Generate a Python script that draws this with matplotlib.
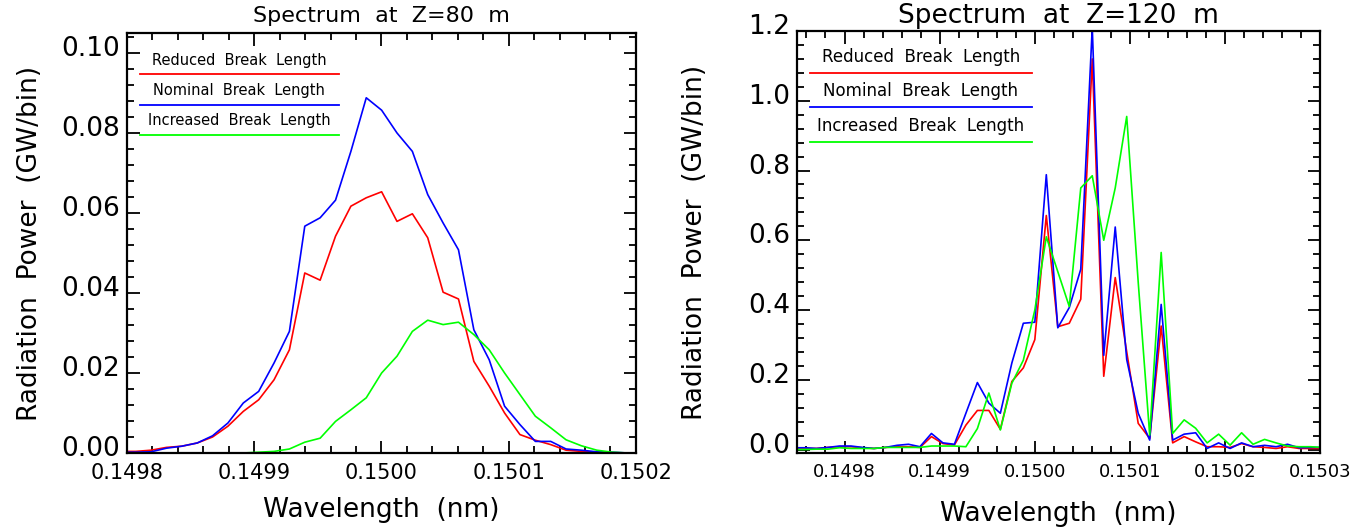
import numpy as np
import matplotlib
matplotlib.use('Agg')
import matplotlib.pyplot as plt
from matplotlib.ticker import MultipleLocator, AutoMinorLocator, FormatStrFormatter
from matplotlib.transforms import ScaledTranslation

# wavelength bins (nm), Z = 80 m panel
wl_80 = [0.14979477, 0.14980685, 0.14981893, 0.14983101, 0.14984309, 0.14985517,
         0.14986725, 0.14987933, 0.14989141, 0.14990349, 0.14991557, 0.14992765,
         0.14993973, 0.14995181, 0.14996389, 0.14997597, 0.14998805, 0.15000013,
         0.15001221, 0.15002429, 0.15003637, 0.15004845, 0.15006053, 0.15007261,
         0.15008469, 0.15009677, 0.15010885, 0.15012093, 0.15013301, 0.15014509,
         0.15015717, 0.15016925, 0.15018133, 0.15019341, 0.15020549]

reduced_80 = [0.0004, 0.0004, 0.0007, 0.0014, 0.0017, 0.0025, 0.0040, 0.0067, 0.0104,
              0.0133, 0.0183, 0.0258, 0.0450, 0.0432, 0.0542, 0.0617, 0.0638, 0.0653,
              0.0579, 0.0598, 0.0538, 0.0402, 0.0385, 0.0229, 0.0167, 0.0100, 0.0046,
              0.0032, 0.0021, 0.0007, 0.0004, 0.0002, 0.0000, 0.0000, 0.0000]
nominal_80 = [0.0002, 0.0002, 0.0003, 0.0012, 0.0017, 0.0025, 0.0043, 0.0075, 0.0125,
              0.0154, 0.0225, 0.0304, 0.0567, 0.0588, 0.0632, 0.0754, 0.0888, 0.0857,
              0.0800, 0.0754, 0.0646, 0.0575, 0.0508, 0.0308, 0.0233, 0.0117, 0.0071,
              0.0029, 0.0029, 0.0010, 0.0007, 0.0003, 0.0002, 0.0000, 0.0000]
increased_80 = [0.0000, 0.0000, 0.0000, 0.0000, 0.0000, 0.0000, 0.0000, 0.0000, 0.0000,
                0.0002, 0.0004, 0.0010, 0.0027, 0.0037, 0.0079, 0.0108, 0.0138, 0.0200,
                0.0242, 0.0304, 0.0332, 0.0321, 0.0327, 0.0296, 0.0258, 0.0200, 0.0146,
                0.0092, 0.0063, 0.0033, 0.0018, 0.0007, 0.0002, 0.0000, 0.0000]

# wavelength bins (nm), Z = 120 m panel
wl_120 = [0.14974645, 0.14975853, 0.14977061, 0.14978269, 0.14979477, 0.14980685,
          0.14981893, 0.14983101, 0.14984309, 0.14985517, 0.14986725, 0.14987933,
          0.14989141, 0.14990349, 0.14991557, 0.14992765, 0.14993973, 0.14995181,
          0.14996389, 0.14997597, 0.14998805, 0.15000013, 0.15001221, 0.15002429,
          0.15003637, 0.15004845, 0.15006053, 0.15007261, 0.15008469, 0.15009677,
          0.15010885, 0.15012093, 0.15013301, 0.15014509, 0.15015717, 0.15016925,
          0.15018133, 0.15019341, 0.15020549, 0.15021757, 0.15022965, 0.15024173,
          0.15025381, 0.15026589, 0.15027797, 0.15029005, 0.15030213]

reduced_120 = [0.003, 0.003, 0.003, 0.006, 0.008, 0.008, 0.005, 0.003, 0.006, 0.008,
               0.008, 0.006, 0.037, 0.017, 0.013, 0.070, 0.112, 0.112, 0.058, 0.195,
               0.234, 0.315, 0.671, 0.352, 0.362, 0.431, 1.120, 0.210, 0.493, 0.280,
               0.075, 0.032, 0.354, 0.019, 0.037, 0.022, 0.008, 0.008, 0.006, 0.017,
               0.008, 0.006, 0.003, 0.008, 0.003, 0.003, 0.003]
nominal_120 = [0.005, 0.005, 0.003, 0.006, 0.010, 0.010, 0.006, 0.003, 0.006, 0.012,
               0.015, 0.008, 0.046, 0.019, 0.015, 0.104, 0.192, 0.133, 0.104, 0.248,
               0.362, 0.365, 0.788, 0.349, 0.407, 0.517, 1.210, 0.270, 0.638, 0.258,
               0.104, 0.027, 0.416, 0.027, 0.044, 0.048, 0.003, 0.019, 0.003, 0.019,
               0.008, 0.012, 0.008, 0.015, 0.005, 0.006, 0.006]
increased_120 = [0.000, 0.000, 0.001, 0.001, 0.005, 0.003, 0.003, 0.003, 0.006, 0.006,
                 0.006, 0.006, 0.010, 0.010, 0.010, 0.008, 0.060, 0.162, 0.056, 0.190,
                 0.256, 0.400, 0.610, 0.510, 0.410, 0.750, 0.785, 0.600, 0.750, 0.955,
                 0.480, 0.041, 0.565, 0.046, 0.085, 0.061, 0.019, 0.044, 0.0125, 0.048,
                 0.015, 0.029, 0.019, 0.010, 0.008, 0.008, 0.006]

labels = ['Reduced  Break  Length', 'Nominal  Break  Length', 'Increased  Break  Length']
colors = ['#ff0000', '#0000ff', '#00ff00']

fig = plt.figure(figsize=(13.67, 5.31), dpi=100)
ax1 = fig.add_axes([0.0929, 0.1469, 0.3723, 0.7910])
ax2 = fig.add_axes([0.5830, 0.1469, 0.3826, 0.7947])


def style_axes(ax, xfs, yfs):
    for sp in ax.spines.values():
        sp.set_linewidth(1.6)
    ax.tick_params(which='both', direction='in', top=True, right=True, width=1.3)
    ax.tick_params(which='major', length=9)
    ax.tick_params(which='minor', length=5)
    ax.tick_params(axis='x', labelsize=xfs, pad=7)
    ax.tick_params(axis='y', labelsize=yfs, pad=5)
    ax.xaxis.set_minor_locator(AutoMinorLocator(5))
    ax.yaxis.set_minor_locator(AutoMinorLocator(5))


def legend_block(ax, fs, lx, ty, ly):
    tx = (lx[0] + lx[1]) / 2
    for lab, c, t, l in zip(labels, colors, ty, ly):
        ax.text(tx, t, lab, transform=ax.transAxes, ha='center', va='center', fontsize=fs)
        ax.plot(lx, [l, l], transform=ax.transAxes, color=c, lw=1.3)


# ---- Z = 80 m ----
for y, c in zip([reduced_80, nominal_80, increased_80], colors):
    ax1.plot(wl_80, y, color=c, lw=1.2)
ax1.set_xlim(0.1498, 0.1502)
ax1.set_ylim(0, 0.105)
ax1.xaxis.set_major_locator(MultipleLocator(0.0001))
ax1.yaxis.set_major_locator(MultipleLocator(0.02))
ax1.xaxis.set_major_formatter(FormatStrFormatter('%.4f'))
ax1.yaxis.set_major_formatter(FormatStrFormatter('%.2f'))
style_axes(ax1, 15, 19)
ax1.set_title('Spectrum  at  Z=80  m', fontsize=16, pad=8)
ax1.set_xlabel('Wavelength  (nm)', fontsize=19)
ax1.set_ylabel('Radiation  Power  (GW/bin)', fontsize=19)
ax1.xaxis.set_label_coords(0.5, -0.136)
ax1.yaxis.set_label_coords(-0.19, 0.5)
legend_block(ax1, 10.5, [0.025, 0.4165], [0.935, 0.862, 0.791], [0.903, 0.829, 0.756])

# ---- Z = 120 m ----
for y, c in zip([reduced_120, nominal_120, increased_120], colors):
    ax2.plot(wl_120, y, color=c, lw=1.2)
ax2.set_xlim(0.14975, 0.1503)
ax2.set_ylim(-0.01, 1.2)
ax2.xaxis.set_major_locator(MultipleLocator(0.0001))
ax2.yaxis.set_major_locator(MultipleLocator(0.2))
ax2.xaxis.set_major_formatter(FormatStrFormatter('%.4f'))
ax2.yaxis.set_major_formatter(FormatStrFormatter('%.1f'))
style_axes(ax2, 13, 19)
ax2.set_title('Spectrum  at  Z=120  m', fontsize=19, pad=6)
ax2.set_xlabel('Wavelength  (nm)', fontsize=19)
ax2.set_ylabel('Radiation  Power  (GW/bin)', fontsize=19)
ax2.xaxis.set_label_coords(0.5, -0.145)
ax2.yaxis.set_label_coords(-0.195, 0.5)
legend_block(ax2, 12, [0.024, 0.45], [0.938, 0.857, 0.776], [0.900, 0.820, 0.736])

for ax in (ax1, ax2):
    ax.xaxis.label.set_va('center')
    ax.yaxis.label.set_va('center')
    ax.yaxis.label.set_rotation_mode('anchor')
    off = ScaledTranslation(0, 5 / 72, fig.dpi_scale_trans)
    for tk in ax.yaxis.get_major_ticks():
        tk.label1.set_transform(tk.label1.get_transform() + off)

fig.savefig('out.png', dpi=100)
